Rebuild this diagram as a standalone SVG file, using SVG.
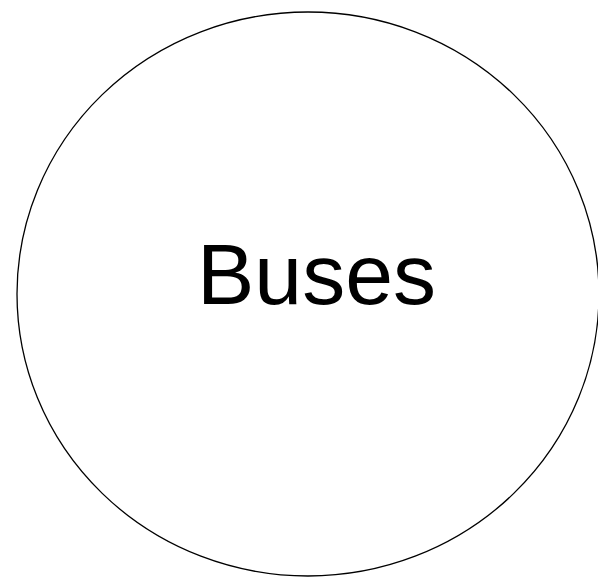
<svg xmlns="http://www.w3.org/2000/svg" width="598" height="577" viewBox="0 0 598 577">
<style>
.node{fill:#ffffff;stroke:#000000;stroke-width:1.3}
.label{font-family:"Liberation Sans",Arial,sans-serif;font-size:86px;fill:#000000}
</style>
<rect width="598" height="577" fill="#ffffff"/>
<g id="connectors"></g>
<g id="node-buses">
<ellipse class="node" cx="308" cy="294" rx="291" ry="282"/>
<text class="label" x="197" y="304">Buses</text>
</g>
</svg>
